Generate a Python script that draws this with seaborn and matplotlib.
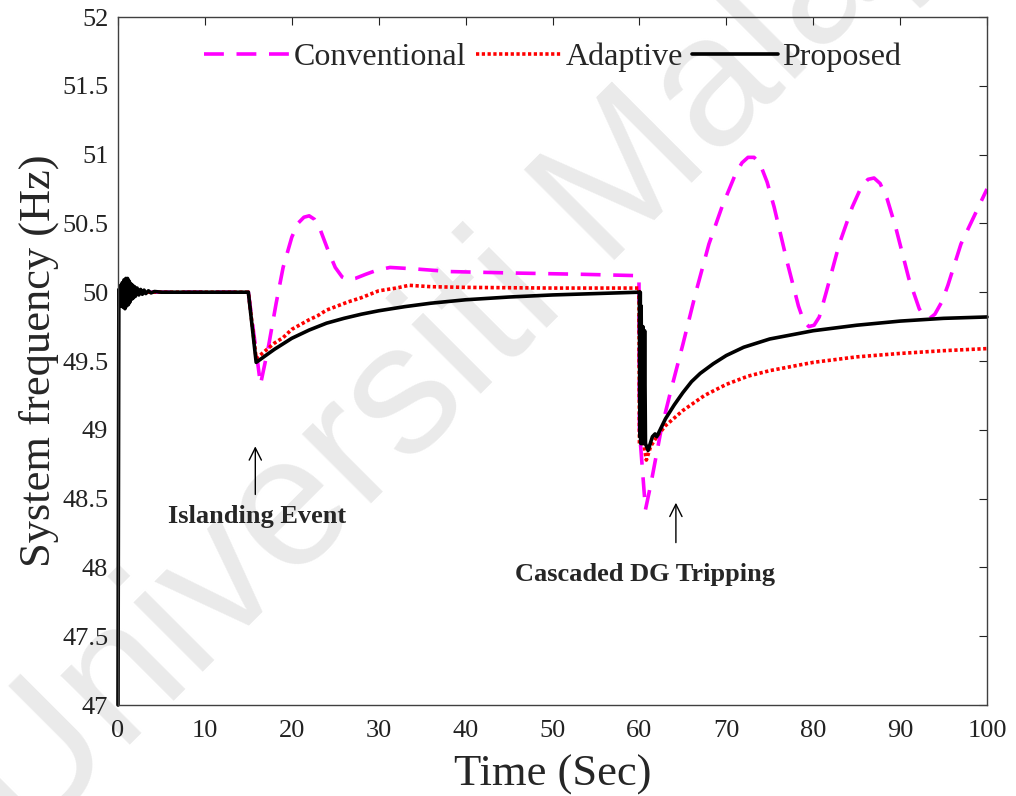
import matplotlib
matplotlib.use("Agg")
import matplotlib.pyplot as plt
import seaborn as sns
import pandas as pd

# ---------------- data ----------------
t_prop = [0.0, 0.1, 0.2, 0.3, 0.4, 0.5, 0.6, 0.7, 0.8, 0.9, 1.0, 1.1, 1.2, 1.3, 1.4,
          1.5, 1.6, 1.7, 1.8, 1.9, 2.0, 2.2, 2.4, 2.6, 2.8, 3.0, 3.2, 3.5, 3.8, 4.2, 5.0,
          15.0, 15.9, 17, 18, 19, 20, 22, 24, 26, 28, 30, 33, 36, 40, 45, 50, 55, 59.95,
          60.0, 60.05, 60.1, 60.15, 60.2, 60.3, 60.4, 60.5, 60.6, 60.7, 61.0, 61.5, 61.8, 62.0,
          63, 64, 65, 66, 67, 68.5, 70, 72, 75, 80, 85, 90, 95, 100]
f_prop = [47.0, 50.02, 49.9, 50.05, 49.9, 50.07, 49.89, 50.09, 49.88, 50.1, 49.9, 50.1, 49.91, 50.08, 49.93,
          50.06, 49.95, 50.05, 49.96, 50.04, 49.97, 50.03, 49.98, 50.02, 49.985, 50.015, 49.99, 50.01, 49.995, 50.005, 50.0,
          50.0, 49.49, 49.54, 49.585, 49.625, 49.665, 49.725, 49.775, 49.81, 49.84, 49.865, 49.895, 49.92, 49.945, 49.965, 49.98, 49.99, 50.0,
          50.0, 48.95, 50.0, 48.9, 49.9, 48.9, 49.75, 48.9, 49.72, 48.9, 48.85, 48.95, 48.97, 48.95,
          49.08, 49.18, 49.27, 49.35, 49.41, 49.48, 49.54, 49.6, 49.66, 49.72, 49.76, 49.79, 49.81, 49.82]

t_adap = [0.0, 15.0, 15.9, 16.5, 18, 19, 20, 22, 23, 24, 26.5, 28, 30, 32, 33.5, 36, 40, 50, 59.95,
          60.0, 60.5, 60.8, 61.3, 62, 63, 65, 67.5, 70, 72.5, 75, 80, 85, 90, 95, 100]
f_adap = [50.0, 50.0, 49.52, 49.55, 49.63, 49.67, 49.73, 49.8, 49.83, 49.87, 49.93, 49.96, 50.01, 50.03, 50.05, 50.04, 50.035, 50.03, 50.03,
          48.9, 48.9, 48.78, 48.88, 48.95, 49.03, 49.14, 49.25, 49.33, 49.39, 49.43, 49.49, 49.53, 49.555, 49.575, 49.59]

t_conv = [0.0, 15.0, 16.4, 17.3, 18.2, 19.0, 20.0, 20.7, 21.4, 22.0, 22.6, 23.3, 24.2, 25.0, 25.8, 26.5, 27.3,
          28.5, 29.8, 31.3, 34, 38.2, 45, 53.5, 59.95,
          60.0, 60.7, 61.3, 62.5, 63.6, 65, 66.5, 68, 69.5, 71, 71.8, 72.5, 73.2, 73.9, 74.7, 75.5, 77, 78.3,
          78.9, 79.5, 80.1, 80.7, 81.5, 83, 84.5, 85.5, 86.3, 87.0, 87.7, 88.5, 89.5, 91, 92.2, 92.8, 93.4,
          94.0, 94.8, 95.5, 97, 98.5, 100]
f_conv = [50.0, 50.0, 49.33, 49.6, 49.92, 50.18, 50.4, 50.5, 50.545, 50.555, 50.53, 50.45, 50.3, 50.18, 50.11, 50.09, 50.1,
          50.13, 50.16, 50.18, 50.17, 50.15, 50.14, 50.13, 50.12,
          49.0, 48.42, 48.6, 49.0, 49.28, 49.62, 50.0, 50.35, 50.62, 50.85, 50.94, 50.98, 50.98, 50.93, 50.8, 50.62, 50.22, 49.9,
          49.79, 49.75, 49.76, 49.82, 50.0, 50.35, 50.62, 50.76, 50.82, 50.83, 50.79, 50.68, 50.47, 50.1, 49.88, 49.82, 49.81,
          49.84, 49.93, 50.05, 50.35, 50.55, 50.75]

series_names = ["Conventional", "Adaptive", "Proposed"]
y_ticks = [47, 47.5, 48, 48.5, 49, 49.5, 50, 50.5, 51, 51.5, 52]
y_tick_labels = ["47", "47.5", "48", "48.5", "49", "49.5", "50", "50.5", "51", "51.5", "52"]
x_ticks = [0, 10, 20, 30, 40, 50, 60, 70, 80, 90, 100]
x_tick_labels = ["0", "10", "20", "30", "40", "50", "60", "70", "80", "90", "100"]

# ---------------- style ----------------
sns.set_theme(style="white")
plt.rcParams["font.family"] = ["Liberation Serif", "DejaVu Serif"]

fig = plt.figure(figsize=(10.16, 7.96), dpi=100)
fig.patch.set_facecolor("white")
ax = fig.add_axes([118 / 1016, 1 - 705 / 796, (987 - 118) / 1016, (705 - 17) / 796])
ax.patch.set_alpha(0)

# watermark
fig.text(0.519, 0.564, "Universiti Malaya", rotation=45, rotation_mode="anchor",
         ha="center", va="baseline", fontsize=134, color="#eaeaea",
         family="Liberation Sans", zorder=-10)

df_conv = pd.DataFrame({"t": t_conv, "f": f_conv})
df_adap = pd.DataFrame({"t": t_adap, "f": f_adap})
df_prop = pd.DataFrame({"t": t_prop, "f": f_prop})

sns.lineplot(data=df_conv, x="t", y="f", ax=ax, color="#ff00ff", lw=2.6,
             linestyle=(0, (5.5, 3.5)), estimator=None, sort=False, label=series_names[0])
sns.lineplot(data=df_adap, x="t", y="f", ax=ax, color="#ff0000", lw=2.6,
             linestyle=(0, (0.9, 0.7)), estimator=None, sort=False, label=series_names[1])
sns.lineplot(data=df_prop, x="t", y="f", ax=ax, color="black", lw=2.6,
             estimator=None, sort=False, label=series_names[2])
ax.get_lines()[-1].set_clip_on(False)

ax.set_xlim(0, 100)
ax.set_ylim(47, 52)
ax.set_xticks(x_ticks)
ax.set_xticklabels(x_tick_labels)
ax.set_yticks(y_ticks)
ax.set_yticklabels(y_tick_labels)
ax.tick_params(direction="in", length=6, width=0.8, top=True, right=True,
               labelsize=19, colors="#222222")
ax.tick_params(axis="x", pad=11)
ax.tick_params(axis="y", pad=7)
for s in ax.spines.values():
    s.set_color("#404040")
    s.set_linewidth(1.0)

ax.set_xlabel("Time (Sec)", fontsize=32, labelpad=9)
ax.set_ylabel("System frequency (Hz)", fontsize=32, labelpad=2)

handles, labels = ax.get_legend_handles_labels()
ax.legend(handles, labels, loc="upper center", bbox_to_anchor=(0.5, 1.0), ncol=3,
          frameon=False, fontsize=23, handlelength=2.7, handletextpad=0.1,
          columnspacing=0.3, borderaxespad=0.4)

# annotations
ax.annotate("", xy=(15.8, 48.90), xytext=(15.8, 48.51),
            arrowprops=dict(arrowstyle="->", lw=1.0, color="black", mutation_scale=22))
ax.text(16.0, 48.37, "Islanding Event", ha="center", va="center",
        fontsize=19, fontweight="bold")
ax.annotate("", xy=(64.2, 48.49), xytext=(64.2, 48.16),
            arrowprops=dict(arrowstyle="->", lw=1.0, color="black", mutation_scale=22))
ax.text(60.6, 47.95, "Cascaded DG Tripping", ha="center", va="center",
        fontsize=19, fontweight="bold")

fig.savefig("out.png", dpi=100)
